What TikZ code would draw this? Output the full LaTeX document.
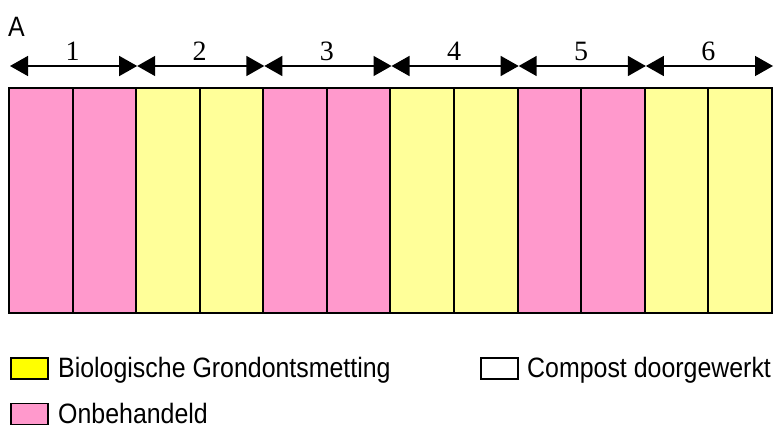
\documentclass[tikz,border=0pt]{standalone}
\usepackage{fontspec}
\setmainfont{Liberation Serif}
\newfontfamily\lgfont[FakeStretch=0.89]{Liberation Sans}
\usetikzlibrary{arrows.meta}
\definecolor{pinkc}{HTML}{FF99CC}
\definecolor{lyel}{HTML}{FFFF99}
\definecolor{yel}{HTML}{FFFF00}
\tikzset{
  strip/.style={draw=black,line width=2pt,minimum width=63.6pt,minimum height=225pt,inner sep=0pt,outer sep=0pt,anchor=north west},
  span/.style={{Triangle[length=18pt,width=20pt]}-{Triangle[length=18pt,width=20pt]},line width=1.5pt},
  num/.style={font=\fontsize{28}{28}\selectfont,anchor=base,inner sep=0pt},
  lgbox/.style={draw=black,line width=1.5pt,minimum width=37pt,minimum height=21pt,inner sep=0pt,anchor=north west},
  lgtext/.style={font=\lgfont\fontsize{28}{28}\selectfont,anchor=base west,inner sep=0pt}
}
\begin{document}
\begin{tikzpicture}[x=1pt,y=-1pt]
\useasboundingbox (0,0) rectangle (777,425);
\node[lgtext] (A) at (8,37) {A};
\foreach \i/\c in {0/pinkc,1/pinkc,2/lyel,3/lyel,4/pinkc,5/pinkc,6/lyel,7/lyel,8/pinkc,9/pinkc,10/lyel,11/lyel}{
  \node[strip,fill=\c] (s\i) at ({9+\i*63.58},88) {};
}
\foreach \k in {0,...,6}{
  \coordinate (p\k) at ({10+\k*127.17},66);
}
\foreach \k/\n in {0/1,1/2,2/3,3/4,4/5,5/6}{
  \pgfmathtruncatemacro{\m}{\k+1}
  \draw[span] (p\k) -- (p\m);
  \node[num] (n\n) at ({10+\k*127.17+62.5},61) {\n};
}
\node[lgbox,fill=yel] (by) at (10,357) {};
\node[lgtext] (ty) at (58,377) {Biologische Grondontsmetting};
\node[lgbox,fill=pinkc] (bp) at (10,402.5) {};
\node[lgtext] (tp) at (58,423) {Onbehandeld};
\node[lgbox,fill=white] (bc) at (480,357) {};
\node[lgtext] (tc) at (527,377) {Compost doorgewerkt};
\end{tikzpicture}
\end{document}
